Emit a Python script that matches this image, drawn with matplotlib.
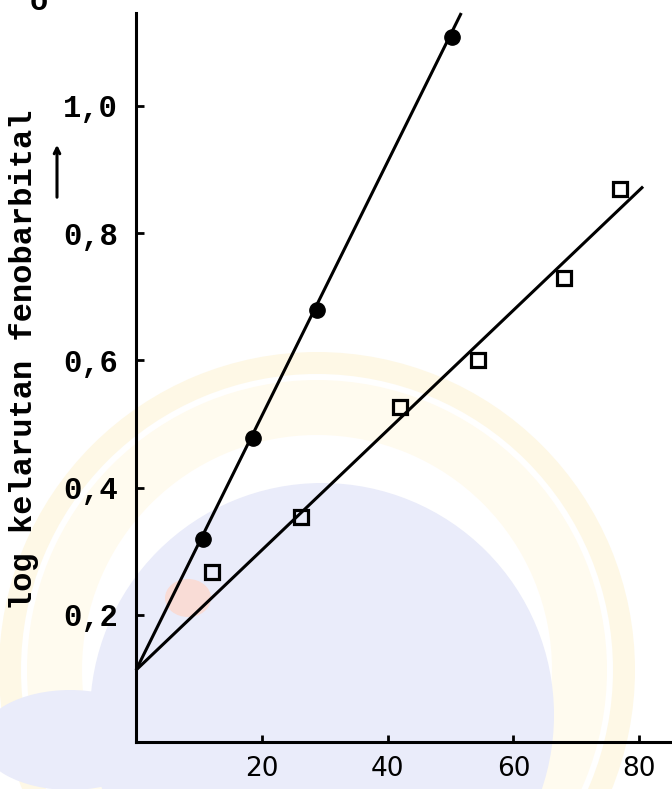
import matplotlib
matplotlib.use("Agg")
import matplotlib.pyplot as plt
from matplotlib.patches import Circle, Ellipse, Wedge
import numpy as np

# Dissolved phenobarbital vs. cosolvent content
circle_x = [10.7, 18.6, 28.8, 50.2]
circle_y = [0.319, 0.478, 0.679, 1.108]

square_x = [12.1, 26.2, 42.0, 54.4, 68.0, 76.9]
square_y = [0.267, 0.354, 0.527, 0.600, 0.729, 0.869]

# Fitted straight lines sharing one intercept
fit_intercept = 0.113
fit_slopes = [0.01998, 0.00943]
fit_x_end = [51.7, 80.6]

x_ticks = [20, 40, 60, 80]
y_ticks = [0.2, 0.4, 0.6, 0.8, 1.0]
y_tick_labels = ["0,2", "0,4", "0,6", "0,8", "1,0"]
y_title = "log kelarutan fenobarbital"

W, H = 672, 789
fig = plt.figure(figsize=(W / 100, H / 100), dpi=100)

# faint seal printed behind the graph, drawn in pixel units
bg = fig.add_axes([0, 0, 1, 1], zorder=0)
bg.set_xlim(0, W)
bg.set_ylim(H, 0)
bg.axis("off")
bg.add_patch(Wedge((317, 670), 318, 0, 360, width=22, color="#fef8e6", lw=0))
bg.add_patch(Wedge((317, 670), 290, 0, 360, width=55, color="#fffbef", lw=0))
bg.add_patch(Circle((322, 715), 232, color="#eaecfa", lw=0))
bg.add_patch(Ellipse((70, 740), 180, 100, color="#eaecfa", lw=0))
bg.add_patch(Ellipse((188, 598), 46, 38, color="#f9dcd6", lw=0))

ax = fig.add_axes([136 / W, (H - 742) / H, (W - 136) / W, (742 - 13) / H], zorder=1)
ax.patch.set_alpha(0)

mono = "Liberation Mono"

for slope, x_end in zip(fit_slopes, fit_x_end):
    xs = np.array([0, x_end])
    ax.plot(xs, fit_intercept + slope * xs, color="black", lw=2.2,
            solid_capstyle="butt", clip_on=False)

ax.plot(circle_x, circle_y, "o", color="black", ms=11, clip_on=False)
ax.plot(square_x, square_y, "s", mfc="none", mec="black", mew=2.3, ms=9.5, clip_on=False)

ax.set_xlim(0, 85.2)
ax.set_ylim(0, 1.146)
for side in ["top", "right"]:
    ax.spines[side].set_visible(False)
for side in ["left", "bottom"]:
    ax.spines[side].set_linewidth(2.2)

ax.set_xticks(x_ticks)
ax.set_xticklabels([str(v) for v in x_ticks], fontsize=19, family="DejaVu Sans")
ax.set_yticks(y_ticks)
ax.set_yticklabels(y_tick_labels, fontsize=22, family=mono, weight="bold")
ax.tick_params(axis="x", direction="in", length=5, width=2, pad=10)
ax.tick_params(axis="y", direction="in", length=6, width=2, pad=13)

fig.text(24 / W, 1 - 360 / H, y_title, rotation=90, ha="center", va="center",
         fontsize=23, family=mono, weight="bold")
ax.annotate("", xy=(57 / W, 1 - 142 / H), xytext=(57 / W, 1 - 200 / H),
            xycoords="figure fraction", textcoords="figure fraction",
            arrowprops=dict(arrowstyle="->", lw=2.2, color="black"))
fig.text(39 / W, 1 - 2 / H, "o", ha="center", va="center",
         fontsize=22, family=mono, weight="bold")

fig.savefig("out.png", dpi=100)
